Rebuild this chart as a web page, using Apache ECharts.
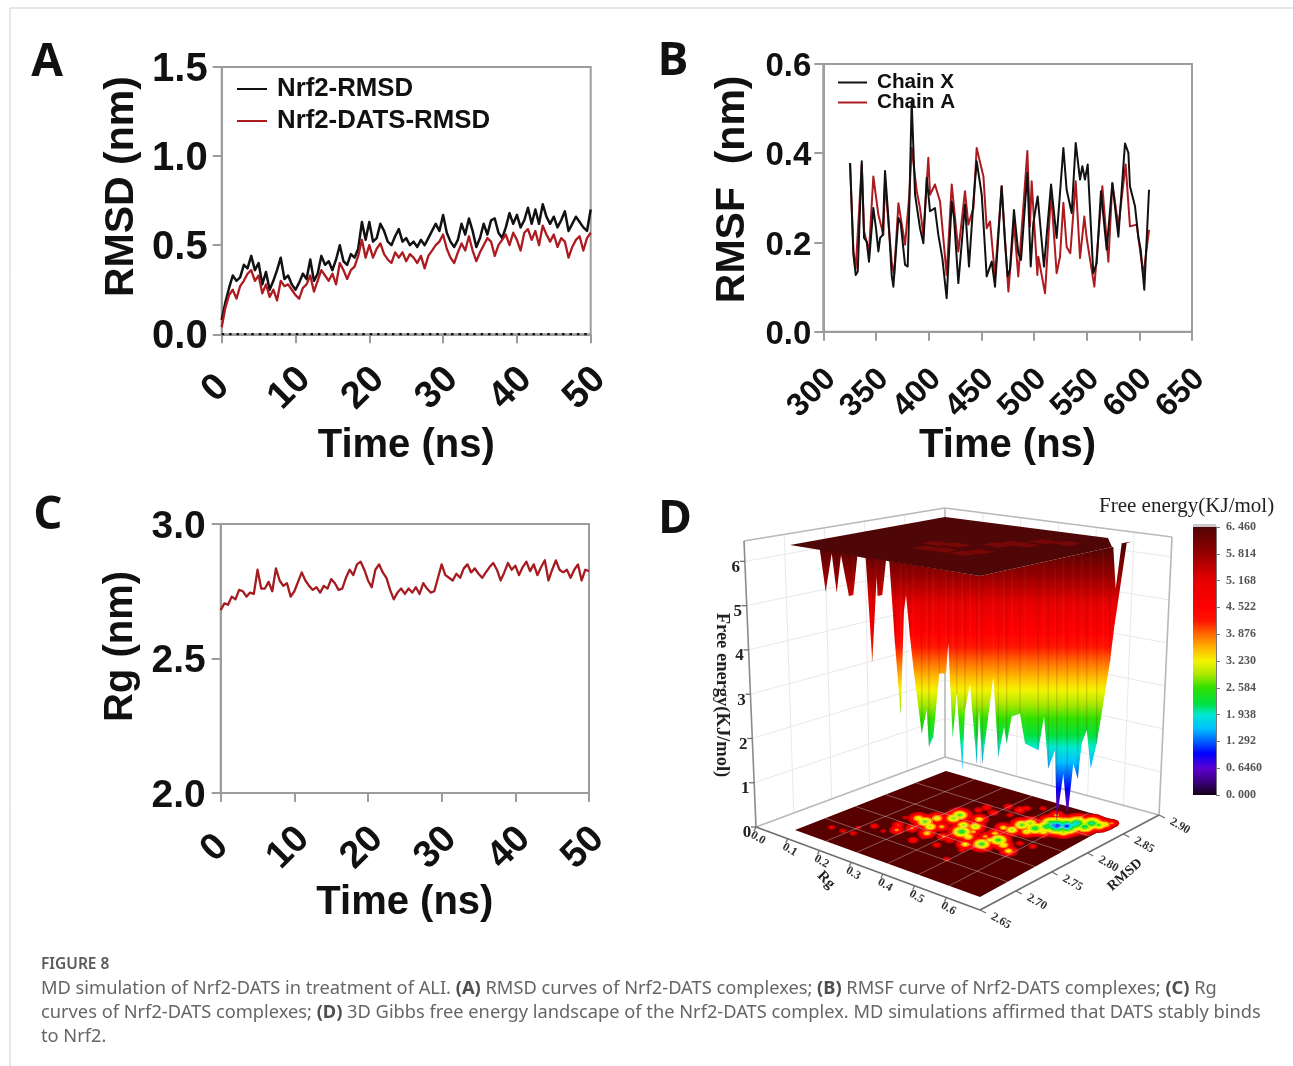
<!DOCTYPE html>
<html><head><meta charset="utf-8">
<script src="https://cdn.jsdelivr.net/npm/echarts@6/dist/echarts.min.js"></script>
<style>html,body{margin:0;padding:0;background:#fff}#c{width:1293px;height:1066px}</style>
</head><body><div id="c"></div>
<script>
// ---------- Panel A : RMSD, sampled every 0.5 ns ----------
const rmsdStepNs = 0.5;
const rmsdFree = [.08,.18,.26,.33,.30,.32,.39,.37,.44,.36,.40,.28,.35,.25,.30,.36,.43,.31,.33,.28,.25,.29,.34,.31,.42,.30,.34,.44,.39,.41,.36,.42,.50,.41,.39,.45,.43,.48,.63,.53,.63,.52,.54,.62,.58,.52,.50,.55,.59,.52,.54,.50,.52,.49,.53,.50,.54,.58,.62,.58,.67,.57,.52,.49,.53,.62,.56,.65,.58,.49,.54,.62,.56,.64,.65,.57,.54,.60,.68,.62,.67,.60,.64,.71,.62,.70,.62,.73,.66,.62,.66,.60,.64,.69,.58,.62,.66,.63,.60,.58,.70];
const rmsdDats = [.04,.15,.22,.25,.20,.27,.30,.34,.36,.30,.33,.23,.28,.21,.25,.19,.30,.27,.28,.25,.22,.20,.26,.28,.33,.24,.30,.36,.33,.30,.34,.28,.40,.36,.31,.36,.38,.44,.53,.43,.50,.43,.48,.51,.45,.42,.40,.46,.43,.46,.41,.45,.43,.40,.44,.37,.44,.47,.50,.52,.56,.48,.43,.40,.46,.51,.47,.55,.47,.41,.46,.50,.54,.52,.44,.50,.53,.56,.50,.57,.53,.47,.57,.59,.53,.58,.50,.61,.56,.52,.56,.49,.54,.52,.43,.49,.53,.55,.47,.54,.57];
// ---------- Panel B : RMSF [residue, nm] ----------
const rmsfChainX = [[325.4,.378],[328.6,.172],[330.8,.127],[332.7,.135],[336.5,.382],[338.7,.21],[341.2,.202],[343.4,.157],[347.5,.277],[350,.232],[352.3,.18],[353.9,.21],[356.4,.217],[358.6,.36],[361.8,.255],[364.9,.127],[366.5,.101],[371.3,.255],[373.5,.243],[377.6,.15],[380.1,.146],[381.7,.285],[383.9,.517],[387.1,.307],[391.8,.232],[395,.198],[398.2,.345],[401.3,.27],[406,.277],[409.2,.217],[413,.165],[417.1,.075],[421.9,.292],[424.1,.255],[428.2,.109],[434.5,.285],[438.3,.146],[442.5,.292],[445.6,.382],[450.4,.307],[455.1,.124],[459.9,.157],[463,.101],[469.3,.326],[472.5,.199],[475,.124],[477.2,.139],[481,.273],[485.1,.176],[487.7,.161],[493.7,.356],[496.9,.146],[499.4,.244],[503.5,.303],[509.5,.146],[516.2,.33],[521.5,.21],[527.9,.412],[531,.318],[535.8,.266],[539.6,.423],[543.7,.341],[545.9,.371],[548.4,.341],[551,.375],[556.3,.131],[559.5,.153],[563.6,.315],[569,.184],[574.4,.333],[580.1,.213],[586.4,.422],[589.6,.401],[591.1,.326],[595.9,.281],[599,.213],[601.3,.184],[604.7,.094],[609.2,.318]];
const rmsfChainA = [[325.4,.378],[328.6,.18],[330.8,.142],[336.5,.375],[338.7,.225],[343.4,.18],[347.5,.348],[352.3,.262],[357,.217],[358.6,.337],[364.9,.157],[367.2,.127],[371.3,.288],[377.6,.195],[381.7,.307],[383.9,.412],[388.7,.315],[391.8,.277],[395,.217],[399.7,.39],[401.3,.307],[406,.33],[410.8,.292],[417.1,.127],[421.9,.33],[428.2,.18],[434.5,.315],[437.7,.24],[442.5,.277],[445.6,.412],[452,.348],[455.1,.232],[458.3,.247],[463,.124],[469.3,.326],[475.7,.09],[481,.244],[485.1,.124],[493.7,.405],[496.2,.236],[497.8,.337],[503.2,.127],[504.1,.168],[510.5,.086],[516.2,.311],[521.5,.131],[524.7,.168],[527.9,.289],[531,.19],[534.5,.176],[539.6,.337],[543.7,.165],[547.8,.258],[550,.21],[557.3,.101],[564.9,.326],[570.6,.157],[574.4,.333],[580.1,.236],[587,.375],[591.1,.236],[597.5,.24],[603.8,.127],[609.2,.228]];
// ---------- Panel C : Rg, sampled every 0.5 ns ----------
const rgValues = [2.68,2.705,2.70,2.73,2.72,2.755,2.75,2.73,2.745,2.74,2.83,2.76,2.76,2.785,2.75,2.835,2.79,2.77,2.78,2.73,2.75,2.785,2.82,2.79,2.77,2.755,2.765,2.745,2.77,2.76,2.795,2.78,2.755,2.76,2.80,2.83,2.81,2.85,2.86,2.83,2.79,2.765,2.83,2.85,2.82,2.80,2.755,2.72,2.745,2.76,2.74,2.76,2.745,2.765,2.74,2.78,2.76,2.745,2.75,2.80,2.85,2.81,2.80,2.79,2.815,2.80,2.835,2.85,2.82,2.835,2.815,2.80,2.82,2.84,2.855,2.83,2.79,2.82,2.855,2.83,2.845,2.81,2.84,2.86,2.825,2.85,2.81,2.84,2.865,2.79,2.83,2.865,2.83,2.82,2.83,2.80,2.83,2.85,2.79,2.83,2.825];
// ---------- Panel D : free energy landscape ----------
const feTicks = [0,1,2,3,4,5,6];
const rgTicks = [0,.1,.2,.3,.4,.5,.6];
const rmsdTicks = [2.65,2.70,2.75,2.80,2.85,2.90];
const colorbarLabels = ['0. 000','0. 6460','1. 292','1. 938','2. 584','3. 230','3. 876','4. 522','5. 168','5. 814','6. 460'];
const feColorStops = [[0,'#120018'],[.3,'#3a0078'],[.646,'#5a00d0'],[1,'#0000ff'],[1.292,'#0060ff'],[1.6,'#00c0ff'],[1.938,'#00e8d0'],[2.2,'#00e040'],[2.584,'#30e000'],[2.9,'#a8e800'],[3.23,'#f4f400'],[3.55,'#ffb400'],[3.876,'#ff6a00'],[4.2,'#ff1400'],[4.522,'#ff0000'],[5.168,'#e80000'],[5.814,'#960000'],[6.46,'#500404']];
// well floor tips of the surface seen from the front: position along the surface, free energy
const wellX  = [820,825.7,831.7,836.7,841,849,853.3,857.3,865.7,872.3,876.7,877.7,882.3,886,889.3,895,900.7,904,906,910,913.3,921.7,926.7,929,933.3,939.3,946,948.3,952.7,956.7,962.3,965,970,976.7,979,982.3,993.3,998.3,1004,1006.7,1011.7,1020,1025,1038.3,1044,1048.3,1055,1056.7,1063.3,1067.3,1073.3,1077.7,1081.7,1086.7,1090.7,1096.7,1103.3,1110,1114.3,1118.3,1126.7,1131.7];
const wellFE = [6.37,5.45,6.31,5.43,6.27,5.35,5.37,6.24,6.2,3.87,5.79,5.35,5.37,6.15,6.13,4.28,2.66,5.03,5.37,4.43,3.75,2.25,2.78,1.95,2.17,3.6,3.6,4.28,2.14,3.15,1.42,2.78,3.38,1.57,2.78,1.57,3.53,1.72,2.4,2.02,2.63,2.7,2.02,1.87,2.63,1.46,1.87,.29,1.34,.33,1.57,1.23,2.02,2.32,1.46,2.02,2.93,3.87,4.66,5.26,6.54,6.58];
const notchX = [1121.7,1115.7,1113.3];
const notchFE = [6.54,5.52,6.46];
// low-energy basins on the floor map: Rg, RMSD, free energy
const floorRg = [.0502,.0846,.1126,.0966,.1164,.153,.1712,.1525,.1321,.1892,.1574,.1829,.213,.236,.1883,.2326,.2163,.2132,.2619,.2878,.3205,.2887,.2644,.3074,.2225,.2264,.2592,.2586,.2927,.2967,.2973,.2423,.2447,.3031,.2784,.304,.3668,.348,.3803,.3745,.3714,.3854,.4153,.4496,.4363,.4713,.3485,.3511,.3407,.3647,.3601,.3669,.3968,.3972,.4093,.4134,.4233,.4401,.447,.3934,.4454,.4739,.4707,.4891,.4974,.5044,.3247,.3759,.4296,.452,.4252,.4589];
const floorRmsd = [2.685,2.686,2.689,2.706,2.722,2.718,2.731,2.743,2.765,2.747,2.774,2.772,2.765,2.748,2.789,2.774,2.802,2.814,2.795,2.779,2.773,2.801,2.82,2.788,2.84,2.852,2.846,2.871,2.873,2.882,2.854,2.722,2.738,2.73,2.754,2.751,2.739,2.754,2.707,2.768,2.783,2.79,2.783,2.774,2.8,2.803,2.787,2.802,2.821,2.823,2.842,2.852,2.845,2.831,2.858,2.867,2.868,2.875,2.883,2.871,2.889,2.888,2.901,2.903,2.909,2.917,2.895,2.891,2.903,2.913,2.844,2.86];
const floorFE = [4.6,4.6,4.6,4.8,4.4,4.8,3.7,4.0,4.8,3.8,3.0,2.4,2.8,3.3,3.0,3.5,2.6,2.4,2.8,2.0,3.0,2.8,3.2,3.5,4.4,4.2,4.2,4.3,4.0,4.4,4.6,4.2,4.4,4.4,3.8,4.2,4.5,3.2,4.6,2.2,3.2,2.2,3.0,3.2,4.5,4.5,3.6,3.4,3.3,2.8,2.4,2.6,2.0,3.0,1.9,1.2,.8,.9,1.6,2.4,1.5,2.0,1.8,2.4,3.0,3.8,4.6,3.6,3.4,3.8,3.0,2.6];
// shallow pits visible in the top plateau: fraction along the two plateau edges
const pitS = [.429,.38,.5,.461,.607,.627,.572,.592,.65,.65,.74];
const pitT = [.356,.48,.376,.51,.374,.457,.633,.715,.72,.838,.878];

// ---------- look ----------
const AX = '#9c9c9c', BLK = '#111111', RED = '#ad1a1f', SANS = '"Liberation Sans",Arial,sans-serif', SERIF = '"Liberation Serif",serif';
const tickLabel = s => ({color:'#111',fontFamily:SANS,fontWeight:'bold',fontSize:s});
const axisCommon = {axisLine:{show:true,onZero:false,lineStyle:{color:AX,width:2}},axisTick:{show:true,length:9,lineStyle:{color:AX,width:2}},splitLine:{show:false}};
const xAx = (i,min,max,iv,fs,gap,margin,pad) => ({gridIndex:i,type:'value',min,max,interval:iv,...axisCommon,
  axisLabel:{...tickLabel(fs),rotate:45,margin,align:'center',verticalAlign:'middle',padding:[0,pad,pad,0],showMinLabel:true,showMaxLabel:true},
  name:'Time (ns)',nameLocation:'middle',nameGap:gap,nameTextStyle:{...tickLabel(40)}});
const yAx = (i,min,max,iv,fs,margin,name,nfs,gap,shift) => ({gridIndex:i,type:'value',min,max,interval:iv,...axisCommon,
  axisLabel:{...tickLabel(fs),margin,formatter:v=>'{v|'+v.toFixed(1)+'}',rich:{v:{...tickLabel(fs),padding:[6,0,0,0]}}},
  name,nameLocation:'middle',nameGap:gap,nameTextStyle:{...tickLabel(nfs),padding:[0,0,0,shift]}});
const gridBox = (left,top,right,bottom) => ({left,top,width:right-left,height:bottom-top,show:true,borderColor:AX,borderWidth:2,backgroundColor:'transparent'});

const timed = (arr) => arr.map((v,i)=>[i*rmsdStepNs,v]);
const line = (name,data,color,g,w,z) => ({name,type:'line',xAxisIndex:g,yAxisIndex:g,data,showSymbol:false,symbol:'none',z,lineStyle:{color,width:w,join:'round'},itemStyle:{color},silent:true});

// ---------- geometry of the 3D box for panel D (hidden pixel-scaled axes, index 3) ----------
const feY = fe => 833 - 44.3*fe;
const lerp = (a,b,t) => [a[0]+(b[0]-a[0])*t, a[1]+(b[1]-a[1])*t];
const cage = {fl:[756,827],ff:[980,910],fr:[1159,815],fb:[945,757],tl:[744,541],tb:[945,508],tr:[1172,537]};
const plate = {l:[795,830],f:[980,897],r:[1118,821],b:[946,771]};
const plateau = {l:[790,545],b:[945,517],r:[1108,538],r2:[1112,547],f:[980,576]};
const fS = rg => rg/.6, fT = r => (r-2.65)/.25;
const bilinear = (c,s,t) => lerp(lerp(c.l,c.f,s),lerp(c.b,c.r,s),t);
const floorPt = (rg,r) => { const s=fS(rg),t=fT(r); return [plate.l[0]+s*185+t*151, plate.l[1]+s*67-t*59]; };
const plateauPt = (s,t) => [plateau.l[0]+s*190+t*155, plateau.l[1]+s*31-t*28];

const segs = [];
const seg = (a,b,c,w) => segs.push([a,b,c,w]);
const WALL='#e9e9e9', EDGE='#b8b8b8', AXIS='#6e6e6e';
feTicks.slice(1).forEach(z=>{ const t=z/6.46;
  const l=lerp(cage.fl,cage.tl,t), b=lerp(cage.fb,cage.tb,t), r=lerp(cage.fr,cage.tr,t);
  seg(l,b,WALL,1); seg(b,r,WALL,1); });
rgTicks.slice(1,-1).forEach(v=>{ const t=v/.6;
  seg(lerp(cage.fb,cage.fr,t),lerp(cage.tb,cage.tr,t),WALL,1); });
rmsdTicks.slice(1,-1).forEach(v=>{ const t=(v-2.65)/.25;
  seg(lerp(cage.fl,cage.fb,t),lerp(cage.tl,cage.tb,t),WALL,1); });
[[cage.tl,cage.tb],[cage.tb,cage.tr],[cage.fb,cage.tb],[cage.fl,cage.fb],[cage.fb,cage.fr],[cage.fr,cage.tr]].forEach(e=>seg(e[0],e[1],EDGE,1.6));
seg(cage.fl,cage.tl,'#8a8a8a',1.6); seg(cage.fl,cage.ff,AXIS,1.6); seg(cage.ff,cage.fr,AXIS,1.6);
const rgAt = v => lerp(cage.fl,cage.ff,v/.6*.85);
const rmAt = v => lerp(cage.ff,cage.fr,(v-2.65)/.25);
rgTicks.forEach(v=>{const p=rgAt(v); seg(p,[p[0]-2,p[1]+4],AXIS,1.3);});
rmsdTicks.forEach(v=>{const p=rmAt(v); seg(p,[p[0]+6,p[1]+3],AXIS,1.3);});
feTicks.forEach(v=>{const p=lerp(cage.fl,cage.tl,v/6.46); seg(p,[p[0]-5,p[1]],AXIS,1.3);});

const floorGrid = [];
rgTicks.slice(1,-1).forEach(v=>{const s=fS(v); floorGrid.push([bilinear(plate,s,0),bilinear(plate,s,1)]);});
rmsdTicks.slice(1,-1).forEach(v=>{const t=fT(v); floorGrid.push([bilinear(plate,0,t),bilinear(plate,1,t)]);});

const ringLevels = [[5.5,'#c00000'],[5.0,'#ff0000'],[4.2,'#ff8a00'],[3.75,'#fff000'],[3.2,'#a4f000'],[2.7,'#10e030'],[2.15,'#00e8d8'],[1.7,'#0090ff'],[1.3,'#1010ff'],[.95,'#5a00d0']];
const rings = [];
ringLevels.forEach(([lv,col])=>floorRg.forEach((rg,i)=>{ if(floorFE[i]<lv) rings.push([rg,floorRmsd[i],lv-floorFE[i],col]); }));

const feGradient = () => ({type:'linear',global:true,x:0,y:feY(6.46),x2:0,y2:feY(0),
  colorStops:feColorStops.map(([v,c])=>({offset:1-v/6.46,color:c})).reverse()});
const frontEdgeY = x => x<plateau.f[0] ? plateau.l[1]+(x-plateau.l[0])*(plateau.f[1]-plateau.l[1])/(plateau.f[0]-plateau.l[0])
                                        : plateau.f[1]+(x-plateau.f[0])*(plateau.r2[1]-plateau.f[1])/(plateau.r2[0]-plateau.f[0]);

const labels3d = [];
const lab = (p,text,font,rot,fill) => labels3d.push({p,text,font,rot,fill:fill||'#222'});
feTicks.forEach(v=>{const p=lerp(cage.fl,cage.tl,v/6.46); lab([p[0]-9,p[1]+6],String(v),'bold 17px '+SERIF,0);});
rgTicks.forEach(v=>{const p=rgAt(v); lab([p[0]+2,p[1]+11],v.toFixed(1),'bold 12px '+SERIF,-Math.PI/6,'#333');});
rmsdTicks.forEach(v=>{const p=rmAt(v); lab([p[0]+21,p[1]+11],v.toFixed(2),'bold 12px '+SERIF,-Math.PI/6,'#333');});
lab([826,880],'Rg','bold 15px '+SERIF,-Math.PI/4);
lab([1125,875],'RMSD','bold 14px '+SERIF,Math.PI*.23);
lab([722,695],'Free energy(KJ/mol)','bold 18.5px '+SERIF,-Math.PI/2);

const C = (api,p) => api.coord(p);
const D = 3;
const dSeries = (z,data,renderItem) => ({type:'custom',xAxisIndex:D,yAxisIndex:D,coordinateSystem:'cartesian2d',z,silent:true,clip:false,data:data.map((_,i)=>[i,0]),renderItem});

const series = [
  line('Nrf2-RMSD',timed(rmsdFree),BLK,0,2.5,3),
  line('Nrf2-DATS-RMSD',timed(rmsdDats),RED,0,2.3,4),
  {type:'line',xAxisIndex:0,yAxisIndex:0,data:[[0,0],[50,0]],showSymbol:false,symbol:'none',z:5,silent:true,lineStyle:{color:'#111',width:2.5,type:[2.5,4.9]}},
  line('Chain A',rmsfChainA,RED,1,2,3),
  line('Chain X',rmsfChainX,BLK,1,2,4),
  line('Rg',timed(rgValues),'#a51b20',2,2.3,3),
  dSeries(1,segs,(p,api)=>{const s=segs[p.dataIndex],a=C(api,s[0]),b=C(api,s[1]);
    return {type:'line',shape:{x1:a[0],y1:a[1],x2:b[0],y2:b[1]},style:{stroke:s[2],lineWidth:s[3]}};}),
  dSeries(2,[0],(p,api)=>({type:'polygon',shape:{points:[plate.l,plate.f,plate.r,plate.b].map(q=>C(api,q))},style:{fill:'#560000'}})),
  dSeries(3,rings,(p,api)=>{const r=rings[p.dataIndex],c=C(api,floorPt(r[0],r[1])),rx=4.4*r[2],pts=[];
    for(let k=0;k<16;k++){const a=k/16*Math.PI*2;pts.push([c[0]+rx*Math.cos(a),c[1]+rx*.6*Math.sin(a)]);}
    return {type:'polygon',shape:{points:pts},style:{fill:r[3]}};}),
  dSeries(4,floorGrid,(p,api)=>{const s=floorGrid[p.dataIndex],a=C(api,s[0]),b=C(api,s[1]);
    return {type:'line',shape:{x1:a[0],y1:a[1],x2:b[0],y2:b[1]},style:{stroke:'rgba(205,190,190,.45)',lineWidth:1}};}),
  dSeries(5,[0],(p,api)=>{
    const pts=[[plateau.l[0]+30,plateau.l[1]+4]];
    wellX.forEach((x,i)=>pts.push([x,feY(wellFE[i])]));
    notchX.forEach((x,i)=>pts.push([x,feY(notchFE[i])]));
    pts.push(plateau.f);
    return {type:'polygon',shape:{points:pts.map(q=>C(api,q))},style:{fill:feGradient()}};}),
  // facets: faint ridges running from the plateau edge straight down to each well tip
  dSeries(6,wellX,(p,api)=>{const i=p.dataIndex,x=wellX[i];
    if(x>1112) return null;
    const tip=C(api,[x,feY(wellFE[i])]),top=C(api,[x,frontEdgeY(x)]);
    return {type:'line',shape:{x1:top[0],y1:top[1],x2:tip[0],y2:tip[1]},style:{stroke:i%2?'rgba(90,0,0,.14)':'rgba(255,255,255,.04)',lineWidth:1.5}};}),
  dSeries(7,[0],(p,api)=>({type:'polygon',shape:{points:[plateau.l,plateau.b,plateau.r,plateau.r2,plateau.f].map(q=>C(api,q))},style:{fill:'#4f0606'}})),
  dSeries(8,pitS,(p,api)=>{const i=p.dataIndex,s=pitS[i],t=pitT[i],d=.045;
    const q=[[s-d,t-d],[s+d,t-d],[s+d,t+d],[s-d,t+d]].map(o=>C(api,plateauPt(o[0],o[1])));
    return {type:'polygon',shape:{points:q},style:{fill:'#760707'}};}),
  dSeries(9,labels3d,(p,api)=>{const l=labels3d[p.dataIndex],c=C(api,l.p);
    return {type:'text',x:c[0],y:c[1],rotation:l.rot,style:{text:l.text,font:l.font,fill:l.fill,align:'center',verticalAlign:'middle'}};}),
  {type:'bar',xAxisIndex:4,yAxisIndex:4,data:[6.46],barWidth:'100%',silent:true,z:2,
   itemStyle:{color:{type:'linear',x:0,y:1,x2:0,y2:0,colorStops:feColorStops.map(([v,c])=>({offset:v/6.46,color:c}))}}}
];

const legendText = s => ({...tickLabel(s),padding:[0,0,0,5]});
const option = {
  animation:false,backgroundColor:'#fff',
  legend:[
    {left:232,top:71,orient:'vertical',icon:'rect',itemWidth:30,itemHeight:2,itemGap:6,data:['Nrf2-RMSD','Nrf2-DATS-RMSD'],textStyle:legendText(25.8),selectedMode:false},
    {left:833,top:67,orient:'vertical',icon:'rect',itemWidth:29,itemHeight:2,itemGap:-1,data:['Chain X','Chain A'],textStyle:legendText(20.7),selectedMode:false}
  ],
  grid:[gridBox(221.7,67,590.7,334.3),gridBox(823.3,64,1192,331.7),gridBox(220.7,524,589,793),
        {left:700,top:500,width:490,height:430,show:false},{left:1193,top:527,width:23,height:268,show:false}],
  xAxis:[xAx(0,0,50,10,38,92,48,17),xAx(1,300,650,50,32,94,50,32),xAx(2,0,50,10,38,90,49,17),
    {gridIndex:3,type:'value',min:700,max:1190,show:false},
    {gridIndex:4,type:'category',data:['G'],show:false}],
  yAxis:[yAx(0,0,1.5,.5,40,14,'RMSD (nm)',41,80,28),yAx(1,0,.6,.2,33,12,'RMSF  (nm)',41,70,17),yAx(2,2,3,.5,39,15,'Rg (nm)',40,80,24),
    {gridIndex:3,type:'value',min:500,max:930,inverse:true,show:false},
    {gridIndex:4,type:'value',min:0,max:6.46,interval:.646,position:'right',
     axisLine:{show:true,lineStyle:{color:'#777',width:1}},axisTick:{show:true,length:4,lineStyle:{color:'#777'}},splitLine:{show:false},
     axisLabel:{margin:10,color:'#555',fontFamily:SERIF,fontWeight:'bold',fontSize:12,formatter:v=>colorbarLabels[Math.round(v/.646)]}}],
  series,
  graphic:[
    {type:'line',shape:{x1:10,y1:8,x2:1293,y2:8},style:{stroke:'#cfcfcf',lineWidth:1}},
    {type:'line',shape:{x1:10,y1:8,x2:10,y2:1066},style:{stroke:'#cfcfcf',lineWidth:1}},
    {type:'rect',shape:{x:1193,y:524,width:23,height:3},style:{fill:'#c8c8c8'}},
    ...[['A',47,63],['B',673,62],['C',48,516],['D',675,520]].map(([t,x,y])=>({type:'text',x,y,style:{text:t,font:'bold 46px "Open Sans",sans-serif',fill:'#111',align:'center',verticalAlign:'middle'}})),
    {type:'text',x:1099,y:506,style:{text:'Free energy(KJ/mol)',font:'21px '+SERIF,fill:'#222',verticalAlign:'middle'}},
    {type:'text',x:41,y:965,style:{text:'FIGURE 8',font:'600 15.5px "Noto Sans",sans-serif',fill:'#5a5a5a',verticalAlign:'middle'}},
    {type:'text',x:41,y:977,style:{
      text:'{n|MD simulation of Nrf2-DATS in treatment of ALI. }{b|(A)}{n| RMSD curves of Nrf2-DATS complexes; }{b|(B)}{n| RMSF curve of Nrf2-DATS complexes; }{b|(C)}{n| Rg}\n{n|curves of Nrf2-DATS complexes; }{b|(D)}{n| 3D Gibbs free energy landscape of the Nrf2-DATS complex. MD simulations affirmed that DATS stably binds}\n{n|to Nrf2.}',
      rich:{n:{font:'18.25px "Noto Sans",sans-serif',fill:'#666666',lineHeight:24},b:{font:'bold 18.25px "Noto Sans",sans-serif',fill:'#4f4f4f',lineHeight:24}}}}
  ]
};
echarts.init(document.getElementById('c')).setOption(option);
</script></body></html>
